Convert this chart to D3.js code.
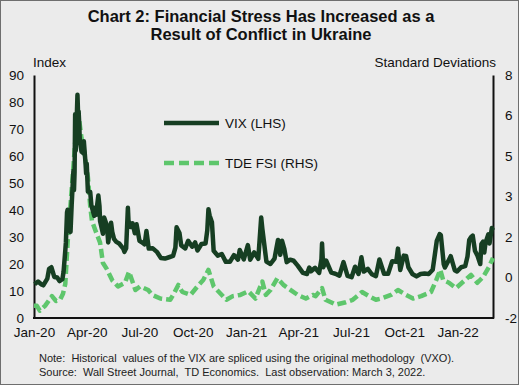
<!DOCTYPE html>
<html>
<head>
<meta charset="utf-8">
<script src="https://cdn.jsdelivr.net/npm/d3@7"></script>
<style>
  body { margin: 0; background: #ebebeb; }
  svg { display: block; font-family: 'Liberation Sans', Arial, sans-serif; }
</style>
</head>
<body>
<svg width="519" height="385"></svg>
<script>
'use strict'

const vixDates = ['2020-01-02', '2020-01-08', '2020-01-14', '2020-01-17', '2020-01-24', '2020-01-27', '2020-01-31',
  '2020-02-05', '2020-02-10', '2020-02-14', '2020-02-19', '2020-02-21', '2020-02-24', '2020-02-25', '2020-02-27',
  '2020-02-28', '2020-03-02', '2020-03-04', '2020-03-06', '2020-03-09', '2020-03-10', '2020-03-11', '2020-03-12',
  '2020-03-13', '2020-03-16', '2020-03-17', '2020-03-18', '2020-03-19', '2020-03-20', '2020-03-23', '2020-03-25',
  '2020-03-26', '2020-03-27', '2020-03-30', '2020-03-31', '2020-04-01', '2020-04-03', '2020-04-07', '2020-04-09',
  '2020-04-14', '2020-04-15', '2020-04-17', '2020-04-21', '2020-04-23', '2020-04-24', '2020-04-29', '2020-05-01',
  '2020-05-06', '2020-05-08', '2020-05-13', '2020-05-15', '2020-05-18', '2020-05-22', '2020-05-27', '2020-06-03',
  '2020-06-05', '2020-06-08', '2020-06-11', '2020-06-12', '2020-06-16', '2020-06-19', '2020-06-23', '2020-06-26',
  '2020-07-01', '2020-07-06', '2020-07-10', '2020-07-13', '2020-07-17', '2020-07-24', '2020-07-31', '2020-08-07',
  '2020-08-14', '2020-08-21', '2020-08-28', '2020-09-01', '2020-09-03', '2020-09-08', '2020-09-11', '2020-09-18',
  '2020-09-23', '2020-09-30', '2020-10-05', '2020-10-09', '2020-10-16', '2020-10-23', '2020-10-26', '2020-10-28',
  '2020-10-30', '2020-11-03', '2020-11-06', '2020-11-13', '2020-11-20', '2020-11-27', '2020-12-04', '2020-12-11',
  '2020-12-18', '2020-12-21', '2020-12-28', '2021-01-04', '2021-01-08', '2021-01-15', '2021-01-22', '2021-01-27',
  '2021-01-29', '2021-02-05', '2021-02-12', '2021-02-19', '2021-02-25', '2021-03-01', '2021-03-04', '2021-03-08',
  '2021-03-12', '2021-03-18', '2021-03-24', '2021-03-31', '2021-04-09', '2021-04-16', '2021-04-20', '2021-04-23',
  '2021-04-30', '2021-05-07', '2021-05-11', '2021-05-12', '2021-05-14', '2021-05-19', '2021-05-28', '2021-06-04',
  '2021-06-11', '2021-06-18', '2021-06-25', '2021-07-02', '2021-07-08', '2021-07-14', '2021-07-19', '2021-07-23',
  '2021-07-30', '2021-08-06', '2021-08-13', '2021-08-19', '2021-08-27', '2021-09-03', '2021-09-10', '2021-09-17',
  '2021-09-20', '2021-09-24', '2021-09-30', '2021-10-04', '2021-10-08', '2021-10-15', '2021-10-22', '2021-10-29',
  '2021-11-05', '2021-11-12', '2021-11-19', '2021-11-26', '2021-12-01', '2021-12-03', '2021-12-08', '2021-12-10',
  '2021-12-17', '2021-12-20', '2021-12-27', '2021-12-31', '2022-01-07', '2022-01-14', '2022-01-18', '2022-01-21',
  '2022-01-24', '2022-01-27', '2022-01-31', '2022-02-04', '2022-02-09', '2022-02-11', '2022-02-14', '2022-02-16',
  '2022-02-18', '2022-02-23', '2022-02-25', '2022-03-01', '2022-03-03']
const vixValues = [12.5, 13.5, 12.4, 12.1, 14.6, 18.2, 18.8,
  15.2, 15.0, 13.7, 14.4, 17.1, 25.0, 27.9, 39.2,
  40.1, 33.4, 31.9, 41.9, 54.5, 47.3, 53.9, 75.5,
  62.0, 82.7, 75.9, 76.5, 72.0, 66.0, 61.6, 64.0,
  61.0, 65.5, 57.1, 53.5, 57.1, 46.8, 46.7, 41.7,
  37.8, 40.8, 38.2, 45.4, 41.4, 35.9, 31.2, 37.2,
  34.1, 28.0, 35.3, 31.9, 29.3, 28.2, 27.6, 25.7,
  24.5, 25.8, 40.8, 36.1, 33.7, 35.1, 31.4, 34.7,
  28.6, 27.9, 27.3, 32.2, 25.7, 25.8, 24.5, 22.2,
  22.0, 22.5, 23.0, 26.1, 33.6, 31.5, 26.9, 25.8,
  28.6, 26.4, 28.0, 25.0, 27.4, 27.6, 32.5, 40.3,
  38.0, 35.5, 24.9, 23.1, 23.7, 20.8, 20.8, 23.3,
  21.6, 25.2, 21.7, 27.0, 21.6, 24.3, 21.9, 37.2,
  33.1, 20.9, 20.0, 22.0, 28.9, 23.4, 28.6, 25.5,
  20.7, 21.6, 21.2, 19.4, 16.7, 16.3, 18.7, 17.3,
  18.6, 16.7, 21.8, 27.6, 18.8, 21.3, 16.8, 16.4,
  15.7, 20.7, 15.6, 15.1, 19.0, 16.3, 22.5, 17.2,
  18.2, 16.2, 15.5, 21.7, 16.4, 16.4, 21.0, 20.8,
  25.7, 17.8, 23.1, 23.0, 18.8, 16.3, 15.4, 16.3,
  16.5, 16.3, 17.9, 28.6, 31.1, 30.7, 19.9, 18.7,
  21.6, 22.9, 17.7, 17.2, 18.8, 19.2, 22.8, 28.9,
  29.9, 30.5, 24.8, 23.2, 20.0, 27.4, 28.3, 24.3,
  27.8, 31.0, 27.6, 33.3, 32.5]

const fsiDates = ['2020-01-01', '2020-01-06', '2020-01-11', '2020-01-20', '2020-02-01', '2020-02-08', '2020-02-15',
  '2020-02-20', '2020-02-24', '2020-02-28', '2020-03-07', '2020-03-12', '2020-03-19', '2020-03-23', '2020-03-28',
  '2020-04-03', '2020-04-07', '2020-04-10', '2020-04-16', '2020-04-24', '2020-04-29', '2020-05-06', '2020-05-15',
  '2020-05-25', '2020-06-06', '2020-06-13', '2020-06-24', '2020-07-02', '2020-07-16', '2020-07-23', '2020-08-06',
  '2020-08-23', '2020-08-30', '2020-09-06', '2020-09-13', '2020-09-27', '2020-10-09', '2020-10-19', '2020-10-28',
  '2020-11-06', '2020-11-18', '2020-11-28', '2020-12-09', '2020-12-22', '2021-01-05', '2021-01-17', '2021-01-29',
  '2021-02-04', '2021-02-12', '2021-02-24', '2021-03-07', '2021-03-19', '2021-03-31', '2021-04-14', '2021-04-26',
  '2021-05-01', '2021-05-12', '2021-05-18', '2021-06-05', '2021-06-22', '2021-07-04', '2021-07-20', '2021-08-01',
  '2021-08-13', '2021-08-22', '2021-09-08', '2021-09-20', '2021-10-04', '2021-10-16', '2021-10-30', '2021-11-16',
  '2021-11-25', '2021-12-02', '2021-12-07', '2021-12-17', '2021-12-29', '2022-01-10', '2022-01-24', '2022-02-04',
  '2022-02-14', '2022-02-24', '2022-03-03']
const fsiValues = [-1.5, -1.5, -1.7, -1.5, -1.1, -1.3, -1.25,
  -1.0, -0.6, 1.1, 3.6, 5.2, 6.15, 5.4, 4.8,
  3.8, 2.6, 2.0, 1.6, 1.1, 0.26, 0.0, -0.45,
  -0.7, -0.55, -0.1, -0.85, -0.7, -0.85, -1.05, -1.2,
  -1.25, -0.97, -0.64, -0.93, -1.05, -0.7, -0.44, -0.02,
  -0.7, -1.0, -1.25, -1.1, -1.05, -0.9, -1.2, -0.5,
  -1.05, -0.85, -0.36, -0.65, -0.85, -1.05, -1.2, -1.05,
  -1.1, -0.77, -1.25, -1.45, -1.35, -1.25, -0.93, -1.1,
  -1.25, -1.2, -1.05, -0.85, -1.05, -1.2, -1.1, -0.93,
  -0.44, -0.02, -0.44, -0.55, -0.77, -0.52, -0.23, -0.55,
  -0.31, 0.1, 0.47]

const leftTicks = [0, 10, 20, 30, 40, 50, 60, 70, 80, 90]
const rightTickLabels = ['-2', '0', '2', '3', '5', '6', '8']

const svg = d3.select('svg')
const parseDate = d3.timeParse('%Y-%m-%d')
const plotLeft = 34
const plotRight = 493
const plotTop = 75
const plotBottom = 318
const darkGreen = '#163e22'
const lightGreen = '#5ec66c'

svg.append('rect')
  .attr('x', 0.5).attr('y', 0.5).attr('width', 518).attr('height', 384)
  .attr('fill', '#ebebeb').attr('stroke', '#6e6e6e')

const title = svg.append('text')
  .attr('text-anchor', 'middle')
  .style('font-size', '16.5px').style('font-weight', 'bold').attr('fill', '#111')
title.append('tspan').attr('x', 261).attr('y', 22).text('Chart 2: Financial Stress Has Increased as a')
title.append('tspan').attr('x', 261).attr('y', 40).text('Result of Conflict in Ukraine')

const xScale = d3.scaleTime()
  .domain([parseDate('2020-01-01'), parseDate('2022-03-03')])
  .range([plotLeft, plotRight])
const yLeft = d3.scaleLinear().domain([0, 90]).range([plotBottom, plotTop])
const yRight = d3.scaleLinear().domain([-2, 8]).range([plotBottom, plotTop])

const xAxis = d3.axisBottom(xScale)
  .tickValues(d3.timeMonth.every(3).range(parseDate('2020-01-01'), parseDate('2022-02-01')))
  .tickFormat(d3.timeFormat('%b-%y'))
  .tickSize(0)
  .tickPadding(9)
const gx = svg.append('g').attr('transform', `translate(0, ${plotBottom})`).call(xAxis)

svg.append('g').attr('transform', `translate(${plotLeft}, 0)`)
  .call(d3.axisLeft(yLeft).tickValues(leftTicks).tickSize(0).tickPadding(10))

const rightTicks = d3.range(7).map((i) => -2 + i * 10 / 6)
svg.append('g').attr('transform', `translate(${plotRight}, 0)`)
  .call(d3.axisRight(yRight).tickValues(rightTicks)
    .tickFormat((d, i) => rightTickLabels[i]).tickSize(0).tickPadding(12))

svg.selectAll('.tick text')
  .style('font-size', '13.5px').style('font-family', "'Liberation Sans', Arial, sans-serif").attr('fill', '#111')
svg.selectAll('.domain').attr('stroke', '#111').attr('stroke-width', 2)
gx.select('.domain').attr('d', `M${plotLeft - 1},0H${plotRight + 1}`)

svg.append('text').attr('x', 33).attr('y', 67)
  .style('font-size', '13.5px').attr('fill', '#111').text('Index')
svg.append('text').attr('x', 496).attr('y', 67).attr('text-anchor', 'end')
  .style('font-size', '13.5px').attr('fill', '#111').text('Standard Deviations')

const fsiData = fsiDates.map((d, i) => ({ date: parseDate(d), value: fsiValues[i] }))
const vixData = vixDates.map((d, i) => ({ date: parseDate(d), value: vixValues[i] }))

svg.append('path').datum(fsiData)
  .attr('fill', 'none').attr('stroke', lightGreen).attr('stroke-width', 4.5)
  .attr('stroke-dasharray', '9,4').attr('stroke-linejoin', 'round')
  .attr('d', d3.line().x((d) => xScale(d.date)).y((d) => yRight(d.value)))

svg.append('path').datum(vixData)
  .attr('fill', 'none').attr('stroke', darkGreen).attr('stroke-width', 4.5)
  .attr('stroke-linejoin', 'round')
  .attr('d', d3.line().x((d) => xScale(d.date)).y((d) => yLeft(d.value)))

// legend
svg.append('line').attr('x1', 164).attr('x2', 219).attr('y1', 123).attr('y2', 123)
  .attr('stroke', darkGreen).attr('stroke-width', 4.5)
svg.append('text').attr('x', 225).attr('y', 128)
  .style('font-size', '13.5px').attr('fill', '#111').text('VIX (LHS)')
svg.append('line').attr('x1', 164).attr('x2', 219).attr('y1', 163).attr('y2', 163)
  .attr('stroke', lightGreen).attr('stroke-width', 4.5).attr('stroke-dasharray', '10,5')
svg.append('text').attr('x', 225).attr('y', 168)
  .style('font-size', '13.5px').attr('fill', '#111').text('TDE FSI (RHS)')

const notes = svg.append('text').style('font-size', '11px').attr('fill', '#222')
notes.append('tspan').attr('x', 39).attr('y', 362).attr('xml:space', 'preserve')
  .text('Note:  Historical  values of the VIX are spliced using the original methodology  (VXO).')
notes.append('tspan').attr('x', 39).attr('y', 376).attr('xml:space', 'preserve')
  .text('Source:  Wall Street Journal,  TD Economics.  Last observation: March 3, 2022.')
</script>
</body>
</html>
